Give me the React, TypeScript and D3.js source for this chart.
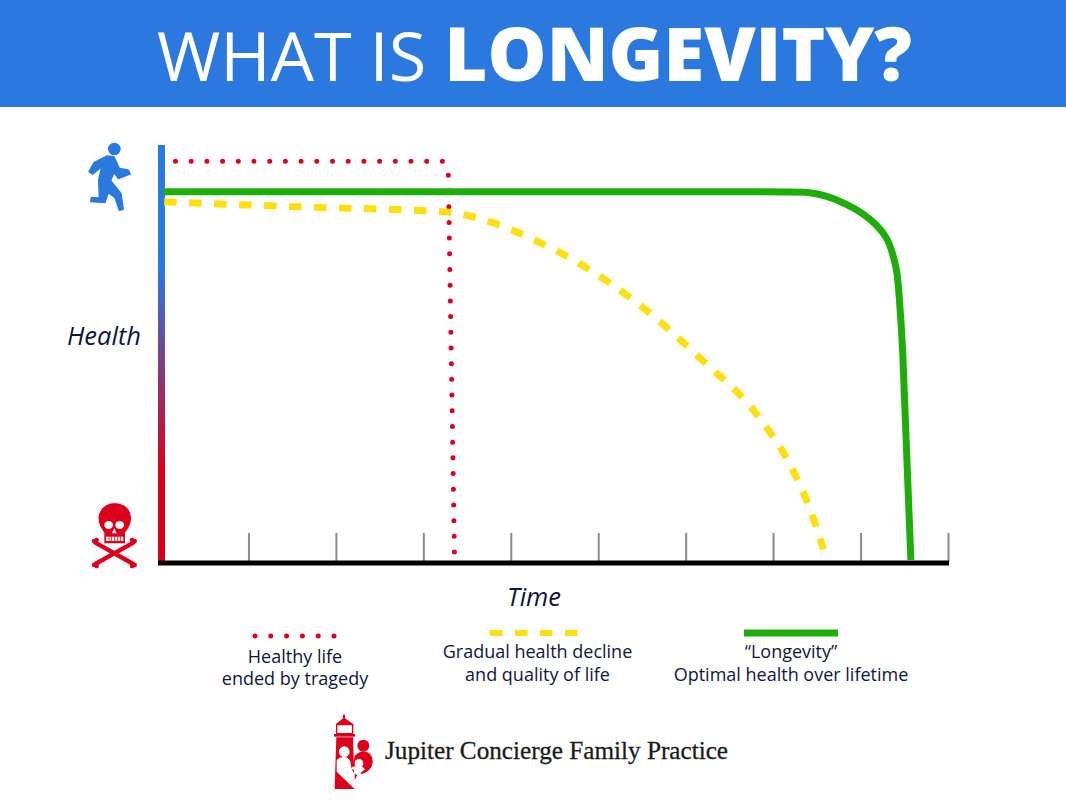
import React from "react";
import * as d3 from "d3";

const W = 1066, H = 800;
const TIME_TICKS = [1, 2, 3, 4, 5, 6, 7, 8, 9];
const longevityT = [0.02, 3.5, 7.2, 7.38, 7.61, 7.84, 8.02, 8.18, 8.3, 8.36, 8.41, 8.43, 8.48, 8.51, 8.57];
const longevityH = [88.8, 88.8, 88.8, 88.8, 87.9, 85.8, 83.7, 80.9, 77.8, 74.2, 70.1, 65.8, 51, 31.8, 0.7];
const declineT = [0.03, 1.58, 3.24, 3.76, 4.21, 4.79, 5.47, 6.16, 6.84, 7.19, 7.42, 7.57];
const declineH = [86.4, 85.2, 84, 81.6, 77.8, 71.5, 61.7, 49, 34.7, 23.4, 12.7, 3.3];
const tragedyT = [0.16, 3.22, 3.28, 3.35];
const tragedyH = [96.1, 96.1, 93, 2.4];
const legendLabels = [
  ["Healthy life", "ended by tragedy"],
  ["Gradual health decline", "and quality of life"],
  ["“Longevity”", "Optimal health over lifetime"],
];

const x = d3.scaleLinear().domain([0, 9]).range([161.5, 948.5]);
const y = d3.scaleLinear().domain([0, 100]).range([563, 145]);
const zip = (a: number[], b: number[]) => a.map((v, i) => [v, b[i]] as [number, number]);
const smooth = d3.line<[number, number]>().x(d => x(d[0])).y(d => y(d[1])).curve(d3.curveMonotoneX);
const basis = d3.line<[number, number]>().x(d => x(d[0])).y(d => y(d[1])).curve(d3.curveBasis);
const straight = d3.line<[number, number]>().x(d => x(d[0])).y(d => y(d[1]));

const RED = "#dc001b", BLUE = "#2b78de", GREEN = "#1fad0b", YELLOW = "#ffdf0d", INK = "#10163a";
const SANS = "'Open Sans', sans-serif";

function Runner() {
  return (
    <g transform="translate(60,130) scale(0.3333)" fill={BLUE} stroke={BLUE} strokeWidth={4} strokeLinejoin="round">
      <circle cx={163} cy={57} r={17} />
      <path d="M87,125 L102,98 L140,78 L162,80 L178,115 L205,120 L211,132 L175,146 L162,128 L152,152 L183,190 L190,238 L178,241 L165,203 L145,188 L135,218 L92,215 L94,202 L118,204 L116,150 L125,110 L98,133 Z" />
    </g>
  );
}

function Skull() {
  return (
    <g transform="translate(70,490) scale(0.3333)">
      <g stroke={RED} strokeWidth={13} strokeLinecap="round">
        <line x1={76} y1={158} x2={190} y2={222} />
        <line x1={190} y1={158} x2={76} y2={222} />
      </g>
      <g fill={RED}>
        <circle cx={72} cy={153} r={7} /><circle cx={80} cy={150} r={7} />
        <circle cx={194} cy={153} r={7} /><circle cx={186} cy={150} r={7} />
        <circle cx={72} cy={225} r={7} /><circle cx={80} cy={228} r={7} />
        <circle cx={194} cy={225} r={7} /><circle cx={186} cy={228} r={7} />
      </g>
      <path fill="#fff" stroke="#fff" strokeWidth={6} d="M103,128 L165,128 L165,162 L103,162 Z" />
      <path fill={RED} d="M103,128 C88,108 80,88 90,66 C100,46 118,40 133,40 C150,40 172,46 180,68 C188,90 180,110 165,128 L165,160 L103,160 Z" />
      <ellipse cx={116} cy={105} rx={13} ry={12} fill="#fff" />
      <ellipse cx={149} cy={105} rx={13} ry={12} fill="#fff" />
      <path d="M133,115 L126,130 L140,130 Z" fill="#fff" />
      <path d="M108,140 H160 V153 H108 Z" fill="#fff" />
      <g stroke={RED} strokeWidth={2.5}>
        {[117, 125, 134, 143, 151].map(v => <line key={v} x1={v} y1={138} x2={v} y2={154} />)}
      </g>
    </g>
  );
}

function Logo() {
  return (
    <g transform="translate(320,700) scale(0.3333)">
      <path fill={RED} d="M69,55 V44 H75 V55 L100,72 H48 Z" />
      <path fill="none" stroke={RED} strokeWidth={4} d="M50,74 H98 V101 H50 Z" />
      <rect x={42} y={102} width={63} height={8} fill={RED} />
      <path fill={RED} d="M49,112 H99 L104,267 H44 Z" />
      <circle cx={130} cy={137} r={18} fill={RED} />
      <path fill={RED} d="M104,168 C120,150 145,150 155,170 C165,195 150,215 125,222 L98,205 Z" />
      <circle cx={73} cy={155} r={16} fill="#fff" />
      <path fill="#fff" d="M50,180 C65,165 88,170 92,188 C92,205 96,212 106,222 L104,267 L50,215 Z" />
      <circle cx={117} cy={190} r={13} fill="#fff" />
      <path fill="#fff" d="M92,205 C100,195 130,195 135,208 L118,222 Z" />
      <path fill={RED} d="M104,222 L112,225 L104,240 Z" />
    </g>
  );
}

export default function App() {
  return (
    <svg width={W} height={H} viewBox={`0 0 ${W} ${H}`} style={{ position: "absolute", left: 0, top: 0, background: "#fff" }}>
      <defs>
        <linearGradient id="axisGrad" x1="0" y1="145" x2="0" y2="563" gradientUnits="userSpaceOnUse">
          <stop offset="0.3" stopColor={BLUE} />
          <stop offset="0.78" stopColor={RED} />
        </linearGradient>
      </defs>
      <rect x={0} y={0} width={W} height={107} fill={BLUE} />
      <text x={157} y={81} fontFamily={SANS} fontSize={68.5} fontWeight={400} fill="#fff">WHAT IS</text>
      <text x={912} y={81} textAnchor="end" fontFamily={SANS} fontSize={74.2} fontWeight={800} fill="#fff">LONGEVITY?</text>

      <rect x={158} y={y(100)} width={7} height={y(0) - y(100)} fill="url(#axisGrad)" />
      {TIME_TICKS.map(t => (
        <line key={t} x1={x(t)} x2={x(t)} y1={533} y2={562} stroke="#8b8b8b" strokeWidth={2} />
      ))}
      <line x1={158} x2={949} y1={563} y2={563} stroke="#000" strokeWidth={5} />

      <path d={straight(zip(tragedyT, tragedyH))!} fill="none" stroke={RED} strokeWidth={5} strokeLinecap="round" strokeDasharray="0 15.7" />
      <path d={smooth(zip(declineT, declineH))!} fill="none" stroke={YELLOW} strokeWidth={7} strokeDasharray="12.5 12.5" />
      <path d={basis(zip(longevityT, longevityH))!} fill="none" stroke={GREEN} strokeWidth={7} />

      <Runner />
      <Skull />

      <text x={104} y={345} textAnchor="middle" fontFamily={SANS} fontStyle="italic" fontSize={25.5} fill={INK}>Health</text>
      <text x={534} y={606} textAnchor="middle" fontFamily={SANS} fontStyle="italic" fontSize={25.5} fill={INK}>Time</text>

      <line x1={255} x2={335} y1={636} y2={636} stroke={RED} strokeWidth={5} strokeLinecap="round" strokeDasharray="0 15.8" />
      <line x1={490} x2={579} y1={633} y2={633} stroke={YELLOW} strokeWidth={6} strokeDasharray="12.5 12.5" />
      <line x1={744} x2={838} y1={633} y2={633} stroke={GREEN} strokeWidth={7} />

      {legendLabels.map((lines, i) => {
        const cx = [295, 537.5, 791][i];
        const ys = [[663, 685], [658, 681], [658, 681]][i];
        return (
          <text key={i} textAnchor="middle" fontFamily={SANS} fontSize={18} fill={INK}>
            <tspan x={cx} y={ys[0]}>{lines[0]}</tspan>
            <tspan x={cx} y={ys[1]}>{lines[1]}</tspan>
          </text>
        );
      })}

      <Logo />
      <text x={385} y={759} fontFamily="'Liberation Serif', serif" fontSize={25.5} fill="#1a1a1a" stroke="#1a1a1a" strokeWidth={0.3} textLength={343} lengthAdjust="spacingAndGlyphs">Jupiter Concierge Family Practice</text>
    </svg>
  );
}
